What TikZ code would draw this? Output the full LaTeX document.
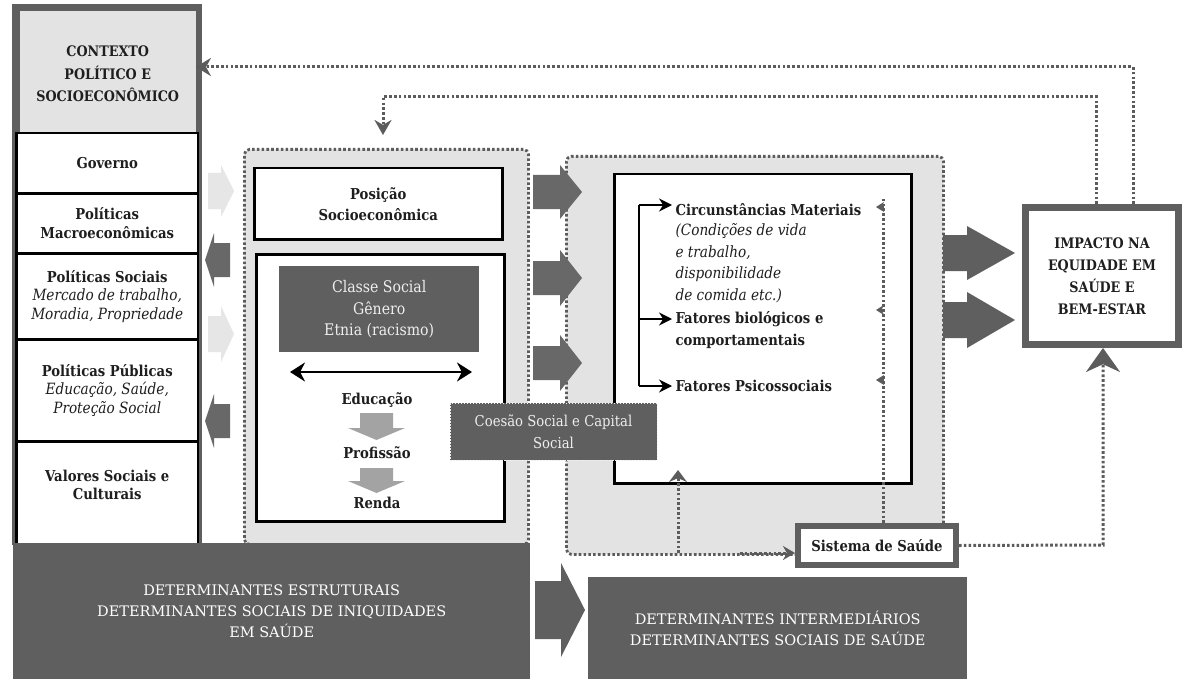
\documentclass[tikz,border=0pt]{standalone}
\usepackage{fontspec}
\setmainfont{DejaVu Serif}[FakeStretch=0.88]
\newfontfamily\widefont{DejaVu Serif}
\usetikzlibrary{arrows.meta}
\definecolor{dg}{HTML}{5F5F5F}
\definecolor{lg}{HTML}{E3E3E3}
\definecolor{la}{HTML}{E6E6E6}
\definecolor{da}{HTML}{686868}
\definecolor{ma}{HTML}{A3A3A3}
\definecolor{dt}{HTML}{5C5C5C}
\definecolor{tx}{HTML}{1E1E1E}
\definecolor{wt}{HTML}{EEEEEE}
\newcommand\barr[7]{\fill[#1] ({#2},{#5-#6}) -- ({#3},{#5-#6}) -- ({#3},{#5-#7}) -- ({#4},{#5}) -- ({#3},{#5+#7}) -- ({#3},{#5+#6}) -- ({#2},{#5+#6}) -- cycle;}
\newcommand\darr[6]{\fill[ma] ({#1-#5},{#2}) -- ({#1+#5},{#2}) -- ({#1+#5},{#3}) -- ({#1+#6},{#3}) -- ({#1},{#4}) -- ({#1-#6},{#3}) -- ({#1-#5},{#3}) -- cycle;}
\newcommand\fb{\fontsize{15}{18.5}\selectfont\bfseries}
\newcommand\fbw{\fontsize{15}{21}\selectfont\bfseries}
\newcommand\itl{\fontsize{15.5}{18.5}\selectfont\mdseries\itshape}
\newcommand\itw{\fontsize{15.5}{21.5}\selectfont\mdseries\itshape}
\newcommand\rgw{\fontsize{16}{21.5}\selectfont}
\newcommand\rgc{\fontsize{15}{22}\selectfont}
\newcommand\fbc{\fontsize{14.5}{22}\selectfont\bfseries}
\newcommand\fbk{\fontsize{14.5}{22.5}\selectfont\bfseries}
\newcommand\btx{\widefont\fontsize{14.5}{21}\selectfont}
\begin{document}
\begin{tikzpicture}[x=1pt,y=-1pt,
 every node/.style={text=tx},
 lbox/.style={draw=black, line width=2.5pt, fill=white, minimum width=181.5pt, anchor=north west, align=center, inner sep=0pt, font=\fb},
 wbox/.style={draw=black, line width=2.5pt, fill=white, anchor=north west, inner sep=0pt, align=center},
 dotl/.style={draw=dt, line width=3pt, dash pattern=on 2.6pt off 2.2pt},
 dbox/.style={draw=dt, line width=2.8pt, dash pattern=on 2.6pt off 2.2pt, fill=lg, rounded corners=5pt, anchor=north west, inner sep=0pt},
 darkbox/.style={fill=dg, anchor=north west, inner sep=0pt, align=center, text=white, font=\btx},
 brk/.style={line width=2pt, -{Stealth[length=13pt,width=13pt]}},
 small/.style={dotl, -{Stealth[length=8pt,width=10pt]}}
]
\fill[white] (0,0) rectangle (1182,679);
\useasboundingbox (0,0) rectangle (1182,679);

% dotted background boxes
\node[dbox, minimum width=284pt, minimum height=395pt] (mid) at (243,148) {};
\node[dbox, minimum width=377pt, minimum height=398pt] (rgt) at (565,155) {};

% left column
\fill[dg] (12,4) rectangle (202,545);
\node[fill=lg, minimum width=176pt, minimum height=126pt, anchor=north west, inner sep=0pt, align=center, font=\fbk] (ctx) at (19.5,11) {CONTEXTO\\POLÍTICO E\\SOCIOECONÔMICO};
\node[lbox, minimum height=60pt] (gov) at (15.25,132) {Governo};
\node[lbox, minimum height=60pt] (mac) at (15.25,192) {Políticas\\Macroeconômicas};
\node[lbox, minimum height=86pt] (soc) at (15.25,252) {Políticas Sociais\\{\itl Mercado de trabalho,}\\{\itl Moradia, Propriedade}};
\node[lbox, minimum height=102pt] (pub) at (15.25,338) {Políticas Públicas\\{\itl Educação, Saúde,}\\{\itl Proteção Social}};
\node[lbox, minimum height=104pt] (val) at (15.25,440) {Valores Sociais e\\Culturais\\[-2pt]\mbox{}};

% arrows between left column and middle box
\barr{la}{208}{221}{234}{191}{18}{26}
\barr{da}{230}{214}{205}{260}{17}{27}
\barr{la}{208}{221}{234}{334}{18}{28}
\barr{da}{230}{214}{205}{421}{17}{27}

% middle content
\node[wbox, minimum width=248pt, minimum height=71pt, font=\fbw] (pos) at (253,167) {Posição\\Socioeconômica};
\node[wbox, minimum width=248pt, minimum height=267pt] (cls) at (255,253) {};
\node[fill=dg, minimum width=200pt, minimum height=86pt, anchor=north west, inner sep=0pt, align=center, text=wt, font=\rgw] (csg) at (279,266) {Classe Social\\Gênero\\Etnia (racismo)};
\coordinate (da) at (290,372);
\coordinate (db) at (472,372);
\draw[line width=2.2pt, {Stealth[length=15pt,width=19pt]}-{Stealth[length=15pt,width=19pt]}] (da) -- (db);
\node[font=\fb] (edu) at (377,400) {Educação};
\node[font=\fb] (pro) at (377,453) {Profissão};
\node[font=\fb] (ren) at (377,503) {Renda};
\darr{376.5}{413}{428}{440}{16.5}{28.5}
\darr{376.5}{468}{481}{493}{16.5}{28.5}

% arrows middle -> right
\barr{da}{533}{560}{582}{192}{17}{27}
\barr{da}{533}{560}{582}{278}{17}{28}
\barr{da}{533}{560}{582}{363}{17}{28}

% right content
\node[wbox, minimum width=297pt, minimum height=309pt] (wb) at (613,173) {};
\node[font=\fb, anchor=west] (cir) at (672,210) {Circunstâncias Materiais};
\node[font=\itw, anchor=north west, align=left] (cirt) at (672,220) {(Condições de vida\\e trabalho,\\disponibilidade\\de comida etc.)};
\node[font=\fb, anchor=west] (bio) at (672,319) {Fatores biológicos e};
\node[font=\fb, anchor=west] (bio2) at (672,341) {comportamentais};
\node[font=\fb, anchor=west] (psi) at (672,386) {Fatores Psicossociais};
\coordinate (sp) at (639,205);
\draw[line width=2pt] (sp) -- (sp |- psi.west);
\draw[brk] (sp) -- (sp -| cir.west);
\draw[brk] (sp |- bio.west) -- (bio.west);
\draw[brk] (sp |- psi.west) -- (psi.west);

% Sistema de Saude
\node[draw=dg, line width=6pt, fill=white, minimum width=158pt, minimum height=39pt, inner sep=0pt, font=\fb] (sis) at (877,545.5) {Sistema de Saúde};
\coordinate (vx) at (883,199);
\draw[dotl] (sis.north -| vx) -- (vx);
\draw[small] (884,207) -- (876,207);
\draw[small] (884,310) -- (876,310);
\draw[small] (884,380) -- (876,380);

\coordinate (t5) at (678,553);
\coordinate (t6) at (678,470);
\draw[dotl, -{Stealth[length=12pt,width=18pt]}] (t5) -- (t6);
\draw[dotl, -{Stealth[length=12pt,width=14pt]}] (740,553) -- (t5 -| sis.west);

% Impacto
\node[draw=dg, line width=7pt, fill=white, minimum width=153pt, minimum height=137pt, inner sep=0pt, align=center, font=\fbc] (imp) at (1102,276) {IMPACTO NA\\EQUIDADE EM\\SAÚDE E\\BEM-ESTAR};
\barr{dg}{943}{967}{1015}{253}{18}{27}
\barr{dg}{943}{967}{1015}{320}{18}{28}

% feedback lines
\coordinate (t1) at (1133,67);
\coordinate (t2) at (1096,97);
\coordinate (t3) at (383,97);
\coordinate (t4) at (1103,545);
\draw[dotl, -{Stealth[length=15pt,width=18pt]}] (imp.north -| t1) -- (t1) -- (t1 -| ctx.east);
\draw[dotl, -{Stealth[length=15pt,width=17pt]}, shorten >=13pt] (imp.north -| t2) -- (t2) -- (t3) -- (t3 |- mid.north);
\draw[dotl, -{Stealth[length=24pt,width=34pt]}] (sis.east) -- (t4) -- (t4 |- imp.south);

% Coesao
\node[fill=dg, draw=wt, dash pattern=on 1.5pt off 1.5pt, line width=1pt, minimum width=207pt, minimum height=57pt, inner sep=0pt, align=center, text=wt, font=\rgc] (coe) at (553.5,431.5) {Coesão Social e Capital\\Social};

% bottom
\node[darkbox, minimum width=517pt, minimum height=137pt] (est) at (13,543) {DETERMINANTES ESTRUTURAIS\\DETERMINANTES SOCIAIS DE INIQUIDADES\\EM SAÚDE};
\node[darkbox, minimum width=379pt, minimum height=102pt] (int) at (588,577) {DETERMINANTES INTERMEDIÁRIOS\\DETERMINANTES SOCIAIS DE SAÚDE};
\barr{dg}{535}{561}{585}{610}{29}{47}
\end{tikzpicture}
\end{document}
